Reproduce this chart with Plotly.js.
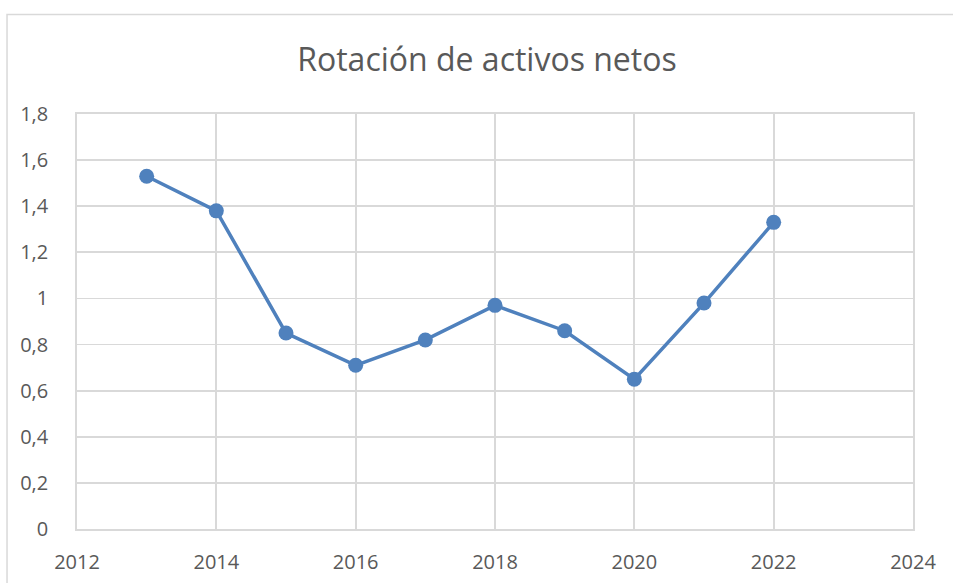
<!DOCTYPE html>
<html>
<head>
<meta charset="utf-8">
<script src="https://cdn.plot.ly/plotly-3.0.1.min.js"></script>
<style>html,body{margin:0;padding:0;background:#fff;overflow:hidden}#chart{width:953px;height:583px}</style>
</head>
<body>
<div id="chart"></div>
<script>
const years = [2013, 2014, 2015, 2016, 2017, 2018, 2019, 2020, 2021, 2022];
const rotacion = [1.53, 1.38, 0.85, 0.71, 0.82, 0.97, 0.86, 0.65, 0.98, 1.33];
const titleText = "Rotación de activos netos";

const blue = "#4f81bd";
const grid = "#d9d9d9";
const txt = "#595959";
const fontFam = "'Open Sans', 'Liberation Sans', sans-serif";

const trace = {
  x: years, y: rotacion, type: "scatter", mode: "lines+markers",
  line: {color: blue, width: 3.5},
  marker: {color: blue, size: 15},
  hoverinfo: "x+y"
};

const layout = {
  width: 953, height: 583,
  margin: {l: 77, r: 40, t: 114, b: 53.5},
  paper_bgcolor: "#fff", plot_bgcolor: "#fff",
  separators: ",.",
  showlegend: false,
  font: {family: fontFam, color: txt, size: 19},
  title: {text: titleText, font: {family: fontFam, size: 32, color: txt},
          x: 0.511, xref: "container", xanchor: "center", y: 1 - 60/583, yref: "container", yanchor: "middle"},
  xaxis: {range: [2012, 2024], tick0: 2012, dtick: 2, showgrid: true, gridcolor: grid, gridwidth: 1.8,
          showline: true, linecolor: grid, linewidth: 1.8, mirror: true, zeroline: false,
          ticks: "", ticklabelstandoff: 14, tickfont: {size: 20, color: txt}},
  yaxis: {range: [0, 1.8], tick0: 0, dtick: 0.2, showgrid: true, gridcolor: grid, gridwidth: 1.8,
          showline: true, linecolor: grid, linewidth: 1.8, mirror: true, zeroline: false,
          ticks: "", ticklabelstandoff: 23, tickfont: {size: 20, color: txt}},
  shapes: [{type: "rect", xref: "paper", yref: "paper",
            x0: -0.0837, x1: 1.2, y0: -0.3, y1: 1.2395,
            line: {color: grid, width: 1.5}, fillcolor: "rgba(0,0,0,0)", layer: "below"}]
};

Plotly.newPlot("chart", [trace], layout, {displayModeBar: false, staticPlot: true});
</script>
</body>
</html>
